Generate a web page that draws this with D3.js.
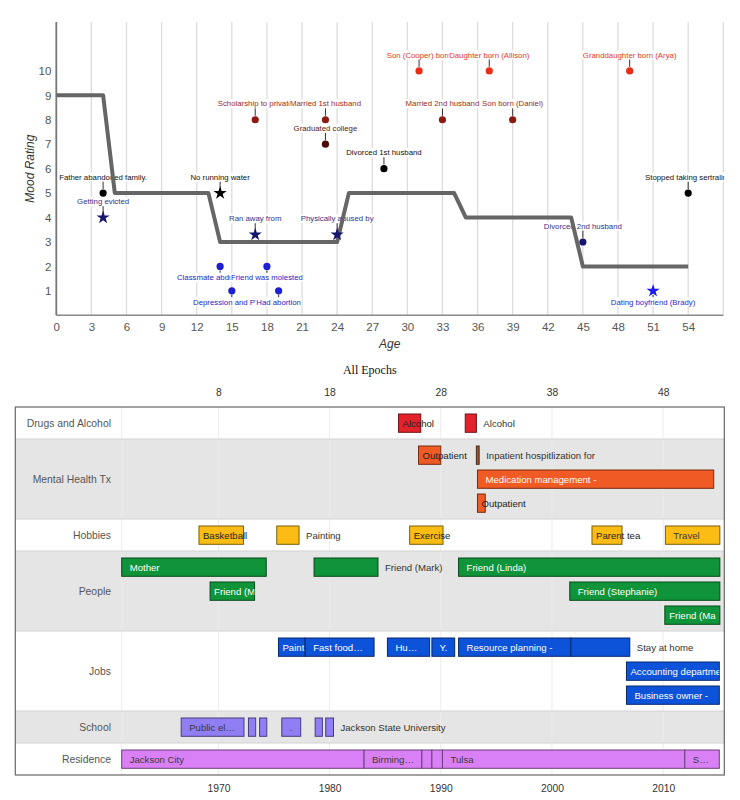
<!DOCTYPE html>
<html>
<head>
<meta charset="utf-8">
<script src="https://cdn.jsdelivr.net/npm/d3@7"></script>
<style>
  body { margin: 0; background: #fff; }
  svg { display: block; font-family: Arial, "Liberation Sans", sans-serif; }
</style>
</head>
<body>
<svg id="chart" width="740" height="800"></svg>
<script>
// ---------------- DATA: mood chart ----------------
const moodAges    = [0, 4, 5, 13, 14, 24, 25, 34, 35, 44, 45, 54];
const moodRatings = [9, 9, 5, 5, 3, 3, 5, 5, 4, 4, 2, 2];
const ageTicks    = [0, 3, 6, 9, 12, 15, 18, 21, 24, 27, 30, 33, 36, 39, 42, 45, 48, 51, 54];
const ratingTicks = [1, 2, 3, 4, 5, 6, 7, 8, 9, 10];

const lifeEvents = [
  { age: 4,  rating: 5,   label: "Father abandoned family.",  group: "loss",        marker: "circle", side: "above" },
  { age: 4,  rating: 4,   label: "Getting evicted",           group: "hardship",    marker: "star",   side: "above" },
  { age: 14, rating: 5,   label: "No running water",          group: "loss",        marker: "star",   side: "above" },
  { age: 14, rating: 2,   label: "Classmate abducted and",    group: "trauma",      marker: "circle", side: "below" },
  { age: 15, rating: 1,   label: "Depression and PTSD",       group: "trauma",      marker: "circle", side: "below" },
  { age: 17, rating: 8,   label: "Scholarship to private",    group: "achievement", marker: "circle", side: "above" },
  { age: 17, rating: 3.3, label: "Ran away from",             group: "hardship",    marker: "star",   side: "above" },
  { age: 18, rating: 2,   label: "Friend was molested",       group: "trauma",      marker: "circle", side: "below" },
  { age: 19, rating: 1,   label: "Had abortion",              group: "trauma",      marker: "circle", side: "below" },
  { age: 23, rating: 8,   label: "Married 1st husband",       group: "achievement", marker: "circle", side: "above" },
  { age: 23, rating: 7,   label: "Graduated college",         group: "education",   marker: "circle", side: "above" },
  { age: 24, rating: 3.3, label: "Physically abused by",      group: "hardship",    marker: "star",   side: "above" },
  { age: 28, rating: 6,   label: "Divorced 1st husband",      group: "loss",        marker: "circle", side: "above" },
  { age: 31, rating: 10,  label: "Son (Cooper) born",         group: "birth",       marker: "circle", side: "above" },
  { age: 33, rating: 8,   label: "Married 2nd husband",       group: "achievement", marker: "circle", side: "above" },
  { age: 37, rating: 10,  label: "Daughter born (Allison)",   group: "birth",       marker: "circle", side: "above" },
  { age: 39, rating: 8,   label: "Son born (Daniel)",         group: "achievement", marker: "circle", side: "above" },
  { age: 45, rating: 3,   label: "Divorced 2nd husband",      group: "hardship",    marker: "circle", side: "above" },
  { age: 49, rating: 10,  label: "Granddaughter born (Arya)", group: "birth",       marker: "circle", side: "above" },
  { age: 51, rating: 1,   label: "Dating boyfriend (Brady)",  group: "personal",    marker: "star",   side: "below" },
  { age: 54, rating: 5,   label: "Stopped taking sertraline", group: "loss",        marker: "circle", side: "above" }
];
const eventGroups = ["loss", "hardship", "trauma", "achievement", "education", "birth", "personal"];

// ---------------- DATA: epochs timeline ----------------
const epochRows = ["Drugs and Alcohol", "Mental Health Tx", "Hobbies", "People", "Jobs", "School", "Residence"];
const yearTicks = [1970, 1980, 1990, 2000, 2010];
const ageAtYearTicks = ["8", "18", "28", "38", "48"];

const epochs = [
  { row: "Drugs and Alcohol", label: "Alcohol", start: 1986.2, end: 1988.2, fit: "over" },
  { row: "Drugs and Alcohol", label: "Alcohol", start: 1992.2, end: 1993.2, fit: "out" },
  { row: "Mental Health Tx", label: "Outpatient", start: 1988.0, end: 1990.0, fit: "over" },
  { row: "Mental Health Tx", label: "Inpatient hospitlization for", start: 1993.2, end: 1993.45, fit: "out", kind: "Inpatient" },
  { row: "Mental Health Tx", label: "Medication management -", start: 1993.3, end: 2014.55, fit: "in" },
  { row: "Mental Health Tx", label: "Outpatient", start: 1993.3, end: 1994.0, fit: "over" },
  { row: "Hobbies", label: "Basketball", start: 1968.25, end: 1972.25, fit: "over" },
  { row: "Hobbies", label: "Painting", start: 1975.25, end: 1977.25, fit: "out" },
  { row: "Hobbies", label: "Exercise", start: 1987.2, end: 1990.2, fit: "over" },
  { row: "Hobbies", label: "Parent tea", start: 2003.6, end: 2006.3, fit: "over" },
  { row: "Hobbies", label: "Travel", start: 2010.2, end: 2015.1, fit: "in" },
  { row: "People", label: "Mother", start: 1961.3, end: 1974.3, fit: "in" },
  { row: "People", label: "Friend (Ma", start: 1969.25, end: 1973.25, fit: "in" },
  { row: "People", label: "Friend (Mark)", start: 1978.6, end: 1984.35, fit: "out" },
  { row: "People", label: "Friend (Linda)", start: 1991.6, end: 2015.1, fit: "in" },
  { row: "People", label: "Friend (Stephanie)", start: 2001.6, end: 2015.1, fit: "in" },
  { row: "People", label: "Friend (Ma", start: 2010.15, end: 2015.1, fit: "in" },
  { row: "Jobs", label: "Paint", start: 1975.4, end: 1977.8, fit: "in" },
  { row: "Jobs", label: "Fast food\u2026", start: 1977.8, end: 1984.0, fit: "in" },
  { row: "Jobs", label: "Hu\u2026", start: 1985.2, end: 1989.0, fit: "in" },
  { row: "Jobs", label: "Y.", start: 1989.2, end: 1991.25, fit: "in" },
  { row: "Jobs", label: "Resource planning -", start: 1991.6, end: 2001.7, fit: "in" },
  { row: "Jobs", label: "Stay at home", start: 2001.7, end: 2007.0, fit: "out" },
  { row: "Jobs", label: "Accounting department", start: 2006.7, end: 2015.05, fit: "in" },
  { row: "Jobs", label: "Business owner -", start: 2006.7, end: 2015.05, fit: "in" },
  { row: "School", label: "Public el\u2026", start: 1966.65, end: 1972.3, fit: "in" },
  { row: "School", label: "", start: 1972.7, end: 1973.35, fit: "in" },
  { row: "School", label: "", start: 1973.7, end: 1974.35, fit: "in" },
  { row: "School", label: ".", start: 1975.7, end: 1977.4, fit: "in" },
  { row: "School", label: "", start: 1978.7, end: 1979.35, fit: "in" },
  { row: "School", label: "Jackson State University", start: 1979.65, end: 1980.35, fit: "out" },
  { row: "Residence", label: "Jackson City", start: 1961.3, end: 1983.1, fit: "in" },
  { row: "Residence", label: "Birming\u2026", start: 1983.1, end: 1988.3, fit: "in" },
  { row: "Residence", label: "", start: 1988.3, end: 1989.2, fit: "in" },
  { row: "Residence", label: "", start: 1989.2, end: 1990.15, fit: "in" },
  { row: "Residence", label: "Tulsa", start: 1990.15, end: 2011.95, fit: "in" },
  { row: "Residence", label: "S\u2026", start: 2011.95, end: 2015.05, fit: "in" }
];
const epochKinds = ["Drugs and Alcohol", "Mental Health Tx", "Inpatient", "Hobbies", "People", "Jobs", "School", "Residence"];

// ---------------- STYLES ----------------
const groupColor = d3.scaleOrdinal()
  .domain(eventGroups)
  .range(["#000000", "#16166e", "#1e1ed2", "#8c1a12", "#4a0a06", "#ec2c16", "#1c1cf0"]);
const labelColor = d3.scaleOrdinal()
  .domain(eventGroups)
  .range(["#111111", "#33338c", "#2626c8", "#9a2c22", "#5a1a14", "#e23a26", "#2a2ad8"]);
const kindColor = d3.scaleOrdinal()
  .domain(epochKinds)
  .range(["#e3232c", "#f05a24", "#a0522d", "#fbbd14", "#0f9439", "#0d53d9", "#907ef4", "#da80f6"]);
const darkText = new Set(["Hobbies", "School", "Residence"]);

const svg = d3.select("#chart");
const defs = svg.append("defs");

// ================= TOP: Mood chart =================
const X0 = 56.3, X1 = 723.3, Y0 = 22, Y1 = 315.3;
const x = d3.scaleLinear().domain([0, 57]).range([X0, X1]);
const y = d3.scaleLinear().domain([0, 12]).range([Y1, Y0]);

const moodG = svg.append("g");
defs.append("clipPath").attr("id", "plotClip")
  .append("rect").attr("x", X0).attr("y", 0).attr("width", X1 - X0 + 1).attr("height", Y1 + 1);

// grid
moodG.append("g").selectAll("line")
  .data([...ageTicks.slice(1), x.domain()[1]])
  .join("line")
  .attr("x1", d => x(d)).attr("x2", d => x(d))
  .attr("y1", Y0).attr("y2", Y1)
  .attr("stroke", "#dcdcdc").attr("stroke-width", 1.3);

// axes
const xAxis = moodG.append("g").attr("transform", `translate(0,${Y1})`)
  .call(d3.axisBottom(x).tickValues(ageTicks).tickSize(0).tickPadding(8));
xAxis.select(".domain").remove();
xAxis.selectAll("text").attr("font-size", 11.5).attr("fill", "#555").attr("font-family", "Arial, 'Liberation Sans', sans-serif");

const yAxis = moodG.append("g").attr("transform", `translate(${X0},0)`)
  .call(d3.axisLeft(y).tickValues(ratingTicks).tickSize(0).tickPadding(5));
yAxis.select(".domain").remove();
yAxis.selectAll("text").attr("font-size", 11.5).attr("fill", "#555").attr("font-family", "Arial, 'Liberation Sans', sans-serif");

moodG.append("line").attr("x1", X0).attr("x2", X1).attr("y1", Y1).attr("y2", Y1)
  .attr("stroke", "#8a8a8a").attr("stroke-width", 1.4);
moodG.append("line").attr("x1", X0).attr("x2", X0).attr("y1", Y0).attr("y2", Y1)
  .attr("stroke", "#777").attr("stroke-width", 1.8);

moodG.append("text").attr("x", (X0 + X1) / 2).attr("y", 348)
  .attr("text-anchor", "middle").attr("font-size", 12).attr("font-style", "italic").attr("fill", "#333")
  .text("Age");
moodG.append("text").attr("transform", `translate(34,${(Y0 + Y1) / 2}) rotate(-90)`)
  .attr("text-anchor", "middle").attr("font-size", 12).attr("font-style", "italic").attr("fill", "#333")
  .text("Mood Rating");

const plot = moodG.append("g").attr("clip-path", "url(#plotClip)");
const ABOVE = 16, BELOW = 11, FS = 7.8;

// stems
plot.append("g").selectAll("line").data(lifeEvents).join("line")
  .attr("x1", d => x(d.age)).attr("x2", d => x(d.age))
  .attr("y1", d => y(d.rating) + (d.side === "above" ? -4 : 4))
  .attr("y2", d => y(d.rating) + (d.side === "above" ? -ABOVE + 4 : BELOW - 4))
  .attr("stroke", "#333").attr("stroke-width", 1);

// labels with white background, drawn in age order (later ones cover earlier ones)
const labG = plot.append("g");
lifeEvents.forEach(d => {
  const g = labG.append("g");
  const ty = y(d.rating) + (d.side === "above" ? -ABOVE : BELOW);
  const r = g.append("rect").attr("fill", "#fff");
  const t = g.append("text").attr("x", x(d.age)).attr("y", ty).attr("dy", "0.35em")
    .attr("text-anchor", "middle").attr("font-size", FS).attr("fill", labelColor(d.group))
    .text(d.label);
  const w = t.node().getComputedTextLength();
  r.attr("x", x(d.age) - w / 2 - 0.5).attr("y", ty - 4.6).attr("width", w + 1).attr("height", 9.2);
});

// mood line
const line = d3.line().x(d => x(d[0])).y(d => y(d[1]));
plot.append("path")
  .datum(moodAges.map((a, i) => [a, moodRatings[i]]))
  .attr("d", line).attr("fill", "none")
  .attr("stroke", "#666").attr("stroke-width", 4).attr("stroke-linejoin", "round");

// markers
const star = d3.symbol().type(d3.symbolStar).size(54);
plot.append("g").selectAll("path").data(lifeEvents.filter(d => d.marker === "star")).join("path")
  .attr("d", star).attr("transform", d => `translate(${x(d.age)},${y(d.rating)})`)
  .attr("fill", d => groupColor(d.group));
plot.append("g").selectAll("circle").data(lifeEvents.filter(d => d.marker === "circle")).join("circle")
  .attr("cx", d => x(d.age)).attr("cy", d => y(d.rating)).attr("r", 3.6)
  .attr("fill", d => groupColor(d.group));

// ================= BOTTOM: All Epochs timeline =================
const BX0 = 15.3, BX1 = 724.3, BY0 = 407, LAB = 121.7;
const xt = d3.scaleLinear().domain([1961.3, 2015.5]).range([LAB, BX1]);

// lane packing per row
const lanesByRow = new Map();
epochs.forEach(e => {
  const ends = lanesByRow.get(e.row) || [];
  let lane = ends.findIndex(end => end <= e.start + 1e-9);
  if (lane < 0) { lane = ends.length; ends.push(e.end); } else ends[lane] = e.end;
  e.lane = lane;
  lanesByRow.set(e.row, ends);
});
const rowInfo = [];
let cy = BY0;
epochRows.forEach((name, i) => {
  const n = (lanesByRow.get(name) || [0]).length;
  const h = 8 + 24 * n;
  rowInfo.push({ name, top: cy, h, i });
  cy += h;
});
const BY1 = cy;
const rowTop = new Map(rowInfo.map(r => [r.name, r.top]));

const bot = svg.append("g");

bot.append("text").attr("x", (BX0 + BX1) / 2).attr("y", 374).attr("text-anchor", "middle")
  .attr("font-family", "'Times New Roman', 'Liberation Serif', serif").attr("font-size", 12).attr("fill", "#111")
  .text("All Epochs");

// row backgrounds
bot.append("g").selectAll("rect").data(rowInfo).join("rect")
  .attr("x", BX0).attr("y", d => d.top).attr("width", BX1 - BX0).attr("height", d => d.h)
  .attr("fill", d => d.i % 2 ? "#e5e5e5" : "#ffffff");

// grid lines + label column separator
bot.append("g").selectAll("line").data(yearTicks).join("line")
  .attr("x1", d => xt(d)).attr("x2", d => xt(d)).attr("y1", BY0).attr("y2", BY1)
  .attr("stroke", "#ececec").attr("stroke-width", 1);
bot.append("line").attr("x1", LAB).attr("x2", LAB).attr("y1", BY0).attr("y2", BY1)
  .attr("stroke", "#ececec").attr("stroke-width", 1);

// row separators
bot.append("g").selectAll("line").data(rowInfo.slice(1)).join("line")
  .attr("x1", BX0).attr("x2", BX1).attr("y1", d => d.top).attr("y2", d => d.top)
  .attr("stroke", "#d2d2d2").attr("stroke-width", 1);

// row labels
bot.append("g").selectAll("text").data(rowInfo).join("text")
  .attr("x", 111).attr("y", d => d.top + d.h / 2).attr("dy", "0.35em")
  .attr("text-anchor", "end").attr("font-size", 10.4).attr("fill", "#555")
  .text(d => d.name);

// bars
const barG = bot.append("g");
const BFS = 9.6;
epochs.forEach((e, i) => {
  const kind = e.kind || e.row;
  const fill = kindColor(kind);
  const bx = xt(e.start), bw = Math.max(xt(e.end) - xt(e.start), 1.5);
  const by = rowTop.get(e.row) + 7 + 24 * e.lane, bh = 18.3;
  barG.append("rect").attr("x", bx).attr("y", by).attr("width", bw).attr("height", bh)
    .attr("fill", fill).attr("stroke", d3.color(fill).darker(2)).attr("stroke-width", 1);
  if (!e.label) return;
  const t = barG.append("text").attr("y", by + bh / 2).attr("dy", "0.35em")
    .attr("font-size", BFS).text(e.label);
  const tw = t.node().getComputedTextLength();
  if (e.fit === "out") {
    t.attr("x", bx + bw + 7).attr("fill", "#333");
  } else {
    const pad = Math.max(4, Math.min(8, (bw - tw) / 2));
    t.attr("x", bx + pad);
    if (e.fit === "over") {
      t.attr("fill", "#222");
    } else {
      t.attr("fill", darkText.has(kind) ? "#3a3a3a" : "#ffffff");
      defs.append("clipPath").attr("id", "bc" + i)
        .append("rect").attr("x", bx).attr("y", by).attr("width", bw).attr("height", bh);
      t.attr("clip-path", `url(#bc${i})`);
    }
  }
});

// border
bot.append("rect").attr("x", BX0).attr("y", BY0).attr("width", BX1 - BX0).attr("height", BY1 - BY0)
  .attr("fill", "none").attr("stroke", "#666").attr("stroke-width", 1.2);

// top (age) and bottom (year) tick labels
const ta = bot.append("g").attr("transform", `translate(0,${BY0})`)
  .call(d3.axisTop(xt).tickValues(yearTicks).tickSize(0).tickPadding(11)
    .tickFormat((d, i) => ageAtYearTicks[i]));
ta.select(".domain").remove();
ta.selectAll("text").attr("font-size", 10.3).attr("fill", "#333").attr("font-family", "Arial, 'Liberation Sans', sans-serif");

const ba = bot.append("g").attr("transform", `translate(0,${BY1})`)
  .call(d3.axisBottom(xt).tickValues(yearTicks).tickSize(0).tickPadding(10).tickFormat(d3.format("d")));
ba.select(".domain").remove();
ba.selectAll("text").attr("font-size", 10.3).attr("fill", "#333").attr("font-family", "Arial, 'Liberation Sans', sans-serif");
</script>
</body>
</html>
